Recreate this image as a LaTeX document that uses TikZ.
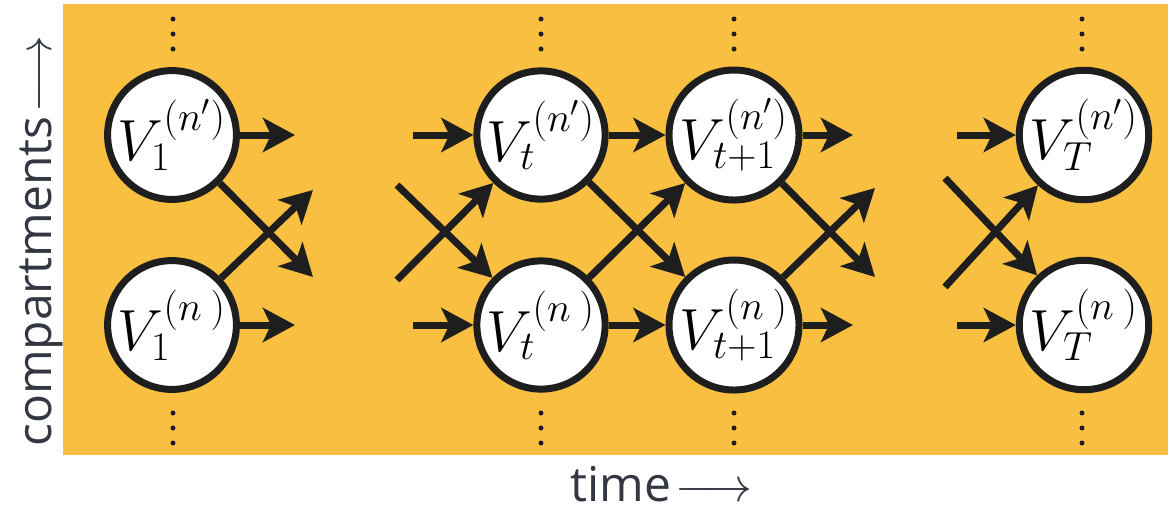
\RequirePackage{fix-cm}
\documentclass[tikz,border=0pt]{standalone}
\usepackage{fontspec}
\newfontfamily\labelfont{Open Sans}
\usetikzlibrary{arrows.meta}
\definecolor{bgorange}{RGB}{248,191,64}
\definecolor{inkdark}{RGB}{30,30,30}
\definecolor{labelink}{RGB}{50,55,65}
\begin{document}
\begin{tikzpicture}[x=0.5pt,y=-0.5pt,
  state/.style={circle,draw=inkdark,fill=white,line width=3.5pt,minimum size=64pt,inner sep=0pt,
    font=\fontsize{29}{33}\selectfont},
  flow/.style={draw=inkdark,line width=3.5pt,-{Stealth[length=16pt,width=17pt,inset=4pt]}},
  dotmark/.style={circle,fill=inkdark,inner sep=0pt,minimum size=2.5pt},
  axislabel/.style={text=labelink,font=\labelfont\fontsize{24}{28}\selectfont,inner sep=0pt}]
\useasboundingbox (0,0) rectangle (1168,511);
\fill[bgorange] (63,4) rectangle (1168,455);
% nodes
\node[state] (a1) at (172,135) {$V_1^{(n')}$};
\node[state] (b1) at (172,325) {$V_1^{(n\phantom{'})}$};
\node[state] (at) at (541,135) {$V_t^{(n')}$};
\node[state] (bt) at (541,325) {$V_t^{(n\phantom{'})}$};
\node[state] (au) at (734,135) {$V_{t+1}^{(n')}$};
\node[state] (bu) at (734,325) {$V_{t+1}^{(n\phantom{'})}$};
\node[state] (aT) at (1084,135) {$V_T^{(n')}$};
\node[state] (bT) at (1084,325) {$V_T^{(n\phantom{'})}$};
% dots
\foreach \cx in {173,541,734,1082}{
  \foreach \cy in {19,34,49,413,428,443}{
    \node[dotmark] at (\cx,\cy) {};
  }
}
% free ends
\coordinate (o1a) at (295,135);
\coordinate (o1b) at (295,325);
\coordinate (o1d) at (313,277);
\coordinate (o1u) at (313,190);
\coordinate (itA) at (413,135);
\coordinate (itB) at (413,325);
\coordinate (itD) at (397,185);
\coordinate (itU) at (397,280);
\coordinate (ouA) at (853,135);
\coordinate (ouB) at (853,325);
\coordinate (ouD) at (875,277);
\coordinate (ouU) at (875,188);
\coordinate (iTA) at (957,135);
\coordinate (iTB) at (957,325);
\coordinate (iTD) at (945,178);
\coordinate (iTU) at (945,287);
% arrows
\draw[flow] (a1) -- (o1a);
\draw[flow] (b1) -- (o1b);
\draw[flow] (a1) -- (o1d);
\draw[flow] (b1) -- (o1u);
\draw[flow] (itA) -- (at);
\draw[flow] (itB) -- (bt);
\draw[flow] (itD) -- (bt);
\draw[flow] (itU) -- (at);
\draw[flow] (at) -- (au);
\draw[flow] (bt) -- (bu);
\draw[flow] (at) -- (bu);
\draw[flow] (bt) -- (au);
\draw[flow] (au) -- (ouA);
\draw[flow] (bu) -- (ouB);
\draw[flow] (au) -- (ouD);
\draw[flow] (bu) -- (ouU);
\draw[flow] (iTA) -- (aT);
\draw[flow] (iTB) -- (bT);
\draw[flow] (iTD) -- (bT);
\draw[flow] (iTU) -- (aT);
% axis labels
\node[axislabel,anchor=base west,rotate=90] (ylab) at (51,447) {compartments\kern2pt$\longrightarrow$};
\node[axislabel,anchor=base west] (xlab) at (570,501) {time\kern2pt$\longrightarrow$};
\end{tikzpicture}
\end{document}
